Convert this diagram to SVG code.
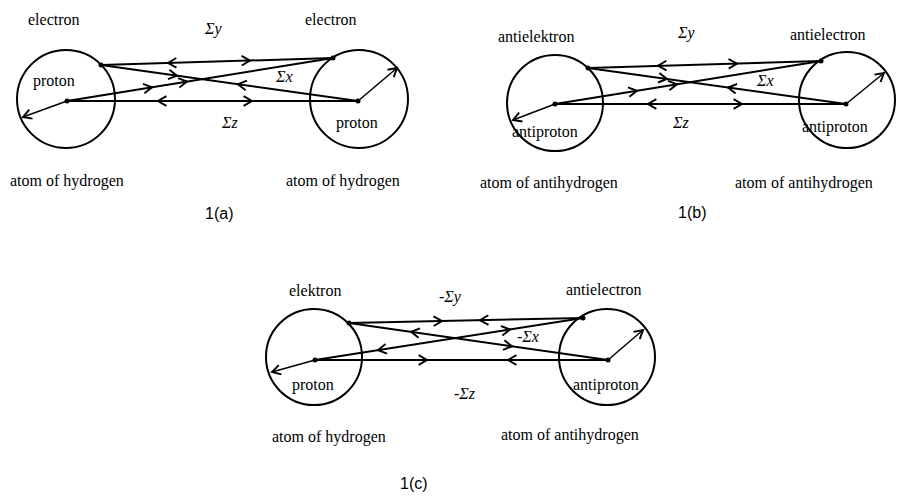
<svg xmlns="http://www.w3.org/2000/svg" width="913" height="497" viewBox="0 0 913 497">
<style>
.c{fill:none;stroke:#000;stroke-width:2}
.l{stroke:#000;stroke-width:2;fill:none}
.a{stroke:#000;stroke-width:2;marker-end:url(#v)}
.o{stroke:#000;stroke-width:1.5;marker-end:url(#v)}
.t{font-family:'Liberation Serif','Times New Roman','DejaVu Serif',serif;font-size:16px;fill:#000}
.s{font-family:'Liberation Serif','Times New Roman','DejaVu Serif',serif;font-size:16px;font-style:italic;fill:#000}
.f{font-family:'Liberation Sans',Arial,sans-serif;font-size:16px;fill:#000}
</style>
<defs>
<marker id="v" markerUnits="userSpaceOnUse" markerWidth="14" markerHeight="12" viewBox="-8 -5 10 10" refX="0" refY="0" orient="auto" overflow="visible">
<path d="M-7,-4 L0,0 L-7,4" fill="none" stroke="#000" stroke-width="1.6"/>
</marker>
</defs>
<rect width="913" height="497" fill="#fff"/>
<g id="panel-a">
<circle class="c" cx="66" cy="99" r="49"/><circle class="c" cx="359" cy="99" r="49"/>
<circle cx="101" cy="65" r="2.5"/><circle cx="67" cy="101" r="2.5"/><circle cx="333" cy="58" r="2.5"/><circle cx="358" cy="101" r="2.5"/>
<text class="t" x="28" y="25">electron</text><text class="t" x="305" y="25">electron</text>
<text class="t" x="33" y="86">proton</text><text class="t" x="336" y="128">proton</text>
<text class="s" x="205" y="34">Σy</text><text class="s" x="276" y="82">Σx</text><text class="s" x="222" y="128">Σz</text>
<text class="t" x="10" y="186">atom of hydrogen</text><text class="t" x="286" y="186">atom of hydrogen</text>
<text class="f" x="205" y="219">1(a)</text>
</g>
<g id="panel-b">
<circle class="c" cx="555" cy="103" r="48"/><circle class="c" cx="847" cy="100" r="48"/>
<circle cx="588" cy="68" r="2.5"/><circle cx="555" cy="104" r="2.5"/><circle cx="821" cy="61" r="2.5"/><circle cx="846" cy="104" r="2.5"/>
<text class="t" x="498" y="42">antielektron</text><text class="t" x="790" y="40">antielectron</text>
<text class="t" x="512" y="137">antiproton</text><text class="t" x="802" y="132">antiproton</text>
<text class="s" x="678" y="38">Σy</text><text class="s" x="757" y="86">Σx</text><text class="s" x="673" y="128">Σz</text>
<text class="t" x="480" y="188">atom of antihydrogen</text><text class="t" x="735" y="188">atom of antihydrogen</text>
<text class="f" x="678" y="218">1(b)</text>
</g>
<g id="panel-c">
<circle class="c" cx="314" cy="357" r="48"/><circle class="c" cx="607" cy="357" r="48"/>
<circle cx="349" cy="323" r="2.5"/><circle cx="315" cy="360" r="2.5"/><circle cx="583" cy="318" r="2.5"/><circle cx="608" cy="360" r="2.5"/>
<text class="t" x="289" y="296">elektron</text><text class="t" x="566" y="295">antielectron</text>
<text class="t" x="292" y="390">proton</text><text class="t" x="573" y="390">antiproton</text>
<text class="s" x="439" y="302">-Σy</text><text class="s" x="517" y="342">-Σx</text><text class="s" x="454" y="399">-Σz</text>
<text class="t" x="272" y="442">atom of hydrogen</text><text class="t" x="501" y="440">atom of antihydrogen</text>
<text class="f" x="400" y="489">1(c)</text>
</g>
<g id="connectors">
<line class="l" x1="101" y1="65" x2="333" y2="58"/><line class="l" x1="101" y1="65" x2="358" y2="101"/>
<line class="l" x1="67" y1="101" x2="333" y2="58"/><line class="l" x1="67" y1="101" x2="358" y2="101"/>
<line class="o" x1="67" y1="101" x2="23" y2="117"/><line class="o" x1="358" y1="101" x2="397" y2="68"/>
<line class="a" x1="172" y1="62.9" x2="168" y2="63"/><line class="a" x1="246" y1="60.6" x2="250" y2="60.5"/>
<line class="a" x1="173" y1="75.1" x2="177" y2="75.7"/><line class="a" x1="242" y1="84.8" x2="238" y2="84.2"/>
<line class="a" x1="148" y1="87.9" x2="152" y2="87.3"/><line class="a" x1="183" y1="82.2" x2="187" y2="81.6"/>
<line class="a" x1="162" y1="101" x2="158" y2="101"/><line class="a" x1="248" y1="101" x2="252" y2="101"/>

<line class="l" x1="588" y1="68" x2="821" y2="61"/><line class="l" x1="588" y1="68" x2="846" y2="104"/>
<line class="l" x1="555" y1="104" x2="821" y2="61"/><line class="l" x1="555" y1="104" x2="846" y2="104"/>
<line class="o" x1="555" y1="104" x2="513" y2="120"/><line class="o" x1="846" y1="104" x2="884" y2="73"/>
<line class="a" x1="662" y1="65.7" x2="658" y2="65.8"/><line class="a" x1="733" y1="63.7" x2="737" y2="63.6"/>
<line class="a" x1="663" y1="78.4" x2="667" y2="79"/><line class="a" x1="732" y1="88.1" x2="728" y2="87.5"/>
<line class="a" x1="633" y1="91.4" x2="637" y2="90.8"/><line class="a" x1="673" y1="84.9" x2="677" y2="84.3"/>
<line class="a" x1="652" y1="104" x2="648" y2="104"/><line class="a" x1="738" y1="104" x2="742" y2="104"/>

<line class="l" x1="349" y1="323" x2="583" y2="318"/><line class="l" x1="349" y1="323" x2="608" y2="360"/>
<line class="l" x1="315" y1="360" x2="583" y2="318"/><line class="l" x1="315" y1="360" x2="608" y2="360"/>
<line class="o" x1="315" y1="360" x2="272" y2="372"/><line class="o" x1="608" y1="360" x2="643" y2="330"/>
<line class="a" x1="438" y1="321.1" x2="442" y2="321"/><line class="a" x1="484" y1="320.2" x2="480" y2="320.3"/>
<line class="a" x1="415" y1="332.4" x2="411" y2="331.8"/><line class="a" x1="508" y1="345.7" x2="512" y2="346.3"/>
<line class="a" x1="382" y1="349.5" x2="378" y2="350.1"/><line class="a" x1="506" y1="330.1" x2="510" y2="329.5"/>
<line class="a" x1="423" y1="360" x2="427" y2="360"/><line class="a" x1="512" y1="360" x2="508" y2="360"/>
</g>
</svg>
